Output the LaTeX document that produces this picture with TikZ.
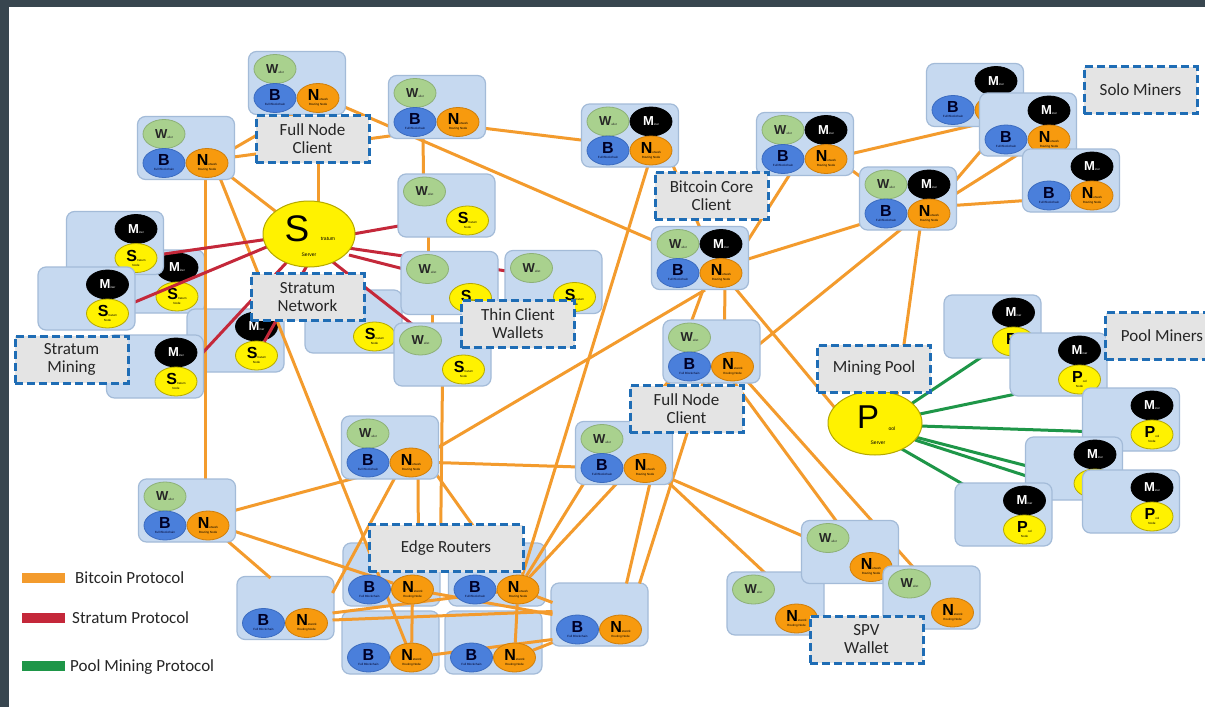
\documentclass[tikz,border=0pt]{standalone}
\usepackage{fontspec}
\setmainfont{Carlito}
\newfontfamily\arialf{Liberation Sans}
\usetikzlibrary{shapes.geometric,calc}
\pgfdeclarelayer{back}
\pgfdeclarelayer{lowest}
\pgfdeclarelayer{lines}
\pgfsetlayers{back,lowest,lines,main}

\definecolor{frame}{HTML}{38464F}
\definecolor{boxfill}{HTML}{C6D9F0}
\definecolor{boxline}{HTML}{A3BBD8}
\definecolor{wfill}{HTML}{A9D18E}
\definecolor{wline}{HTML}{8DB077}
\definecolor{bfill}{HTML}{4A7FDB}
\definecolor{bline}{HTML}{3B6BBF}
\definecolor{nfill}{HTML}{F79A0E}
\definecolor{nline}{HTML}{CF7E0A}
\definecolor{sfill}{HTML}{FFF200}
\definecolor{sline}{HTML}{B5A800}
\definecolor{btc}{HTML}{F39B2D}
\definecolor{strat}{HTML}{C4283A}
\definecolor{poolc}{HTML}{1E9648}
\definecolor{lblfill}{HTML}{E4E4E4}
\definecolor{lblline}{HTML}{1F6DB5}
\definecolor{txt}{HTML}{262626}

\tikzset{
 devbox/.style={draw=boxline, line width=1.2pt, fill=boxfill, rounded corners=8pt, minimum width=97pt, minimum height=63pt, inner sep=0pt},
 circbase/.style={ellipse, minimum width=42pt, minimum height=29pt, inner sep=0pt, line width=0.8pt, align=center, font=\arialf\fontsize{3}{4}\selectfont},
 circW/.style={circbase, fill=wfill, draw=wline, text=txt},
 circB/.style={circbase, fill=bfill, draw=bline, text=black!85!blue},
 circN/.style={circbase, fill=nfill, draw=nline, text=black},
 circM/.style={circbase, fill=black, draw=black, text=white},
 circS/.style={circbase, fill=sfill, draw=sline, text=black},
 lbl/.style={draw=lblline, fill=lblfill, dash pattern=on 8pt off 4pt, line width=3pt, minimum width=113pt, minimum height=47pt, align=center, font=\fontsize{17}{18}\selectfont, text=txt, inner sep=0pt},
 btcl/.style={draw=btc, line width=3pt},
 strl/.style={draw=strat, line width=3pt},
 pooll/.style={draw=poolc, line width=3pt},
 server/.style={ellipse, fill=sfill, draw=sline, line width=1pt, inner sep=0pt},
 legbar/.style={minimum width=43pt, minimum height=10pt, inner sep=0pt},
 legtxt/.style={font=\fontsize{17}{17}\selectfont, text=txt, anchor=base west, inner sep=0pt},
}

\newcommand\bigL[1]{{\fontsize{16}{16}\selectfont\bfseries #1}}
\newcommand\midL[1]{{\fontsize{13}{13}\selectfont\bfseries #1}}
\newcommand\cirW[2]{\node[circW] (#1) at (#2) {\midL{W}allet};}
\newcommand\cirB[2]{\node[circB] (#1) at (#2) {\bigL{B}\\[1pt] Full Blockchain};}
\newcommand\cirN[2]{\node[circN] (#1) at (#2) {\bigL{N}etwork\\[1pt] Routing Node};}
\newcommand\cirM[2]{\node[circM] (#1) at (#2) {\midL{M}iner};}
\newcommand\cirS[2]{\node[circS] (#1) at (#2) {\bigL{S}tratum\\[1pt] Node};}
\newcommand\cirP[2]{\node[circS] (#1) at (#2) {\bigL{P}ool\\[1pt] Node};}
\newcommand\cirX[2]{}
\newcommand\mkbox[3]{\node[devbox] (#1) at (#2,#3) {};}
\newcommand\mkcirc[7]{%
 \csname cir#4\endcsname{#1-ul}{#2-22,#3-14}%
 \csname cir#5\endcsname{#1-ur}{#2+21,#3-14}%
 \csname cir#6\endcsname{#1-ll}{#2-22,#3+15}%
 \csname cir#7\endcsname{#1-lr}{#2+21,#3+15}}
\newcommand\mkdev[7]{\mkbox{#1}{#2}{#3}\mkcirc{#1}{#2}{#3}{#4}{#5}{#6}{#7}}

\begin{document}
\begin{tikzpicture}[x=1pt,y=-1pt]
\useasboundingbox (0,0) rectangle (1205,707);
\begin{pgfonlayer}{back}
\fill[frame] (0,0) rectangle (1205,707);
\fill[white] (9,7) rectangle (1205,707);
\end{pgfonlayer}

% devices under the connectors
\begin{pgfonlayer}{lowest}
\mkdev{SM2}{156}{281.5}{X}{M}{X}{S}
\mkdev{SM5}{235.5}{340.5}{X}{M}{X}{S}
\mkdev{H}{353.5}{321.5}{X}{X}{X}{S}
\mkbox{R0}{285.5}{608}
\mkbox{R1}{391.5}{574.5}
\mkbox{R2}{497}{574.5}
\mkbox{R3}{390.5}{642.5}
\mkbox{R4}{493.5}{642.5}
\mkbox{R5}{599.5}{614.5}
\end{pgfonlayer}

% stratum miners
\mkdev{SM1}{115}{243}{X}{M}{X}{S}
\mkdev{SM3}{86.5}{298.5}{X}{M}{X}{S}
\mkdev{SM4}{155}{366.5}{X}{M}{X}{S}
% full nodes / thin clients
\mkdev{A}{297}{83}{W}{X}{B}{N}
\mkdev{Bx}{186}{148}{W}{X}{B}{N}
\mkdev{C}{437}{107}{W}{X}{B}{N}
\mkdev{D}{446.5}{205.5}{W}{X}{X}{S}
\mkdev{E}{449.5}{283}{W}{X}{X}{S}
\mkdev{F}{553.5}{282}{W}{X}{X}{S}
\mkdev{G}{442.5}{354.5}{W}{X}{X}{S}
\mkdev{I}{630}{135.5}{W}{M}{B}{N}
\mkdev{J}{700}{258}{W}{M}{B}{N}
\mkdev{K}{711.5}{351.5}{W}{X}{B}{N}
\mkdev{L}{624}{453}{W}{X}{B}{N}
\mkdev{MA}{805}{144}{W}{M}{B}{N}
\mkdev{MB}{908}{198.5}{W}{M}{B}{N}
% solo miners
\mkdev{SA}{975}{95}{X}{M}{B}{N}
\mkdev{SB}{1028}{124.5}{X}{M}{B}{N}
\mkdev{SC}{1071}{180.5}{X}{M}{B}{N}
% pool miners
\mkdev{P1}{992.5}{326.5}{X}{M}{X}{P}
\mkdev{P2}{1058.5}{364.5}{X}{M}{X}{P}
\mkdev{P3}{1131}{419.5}{X}{M}{X}{P}
\mkdev{P4}{1074}{468.5}{X}{M}{X}{P}
\mkdev{P5}{1131}{501.5}{X}{M}{X}{P}
\mkdev{P6}{1003.5}{514.5}{X}{M}{X}{P}
% lower nodes
\mkdev{Q}{187}{510.5}{W}{X}{B}{N}
\mkdev{T}{390}{447.5}{W}{X}{B}{N}
\mkcirc{R0}{285.5}{608}{X}{X}{B}{N}
\mkcirc{R1}{391.5}{574.5}{X}{X}{B}{N}
\mkcirc{R2}{497}{574.5}{X}{X}{B}{N}
\mkcirc{R3}{390.5}{642.5}{X}{X}{B}{N}
\mkcirc{R4}{493.5}{642.5}{X}{X}{B}{N}
\mkcirc{R5}{599.5}{614.5}{X}{X}{B}{N}
% SPV wallets
\mkdev{SPV1}{775.5}{603.5}{W}{X}{X}{N}
\mkdev{SPV2}{850}{552}{W}{X}{X}{N}
\mkdev{SPV3}{931.5}{597.5}{W}{X}{X}{N}

% servers
\node[server, minimum width=92pt, minimum height=66pt] (ss) at (309,234) {};
\node[font=\arialf\fontsize{37}{37}\selectfont, inner sep=0pt] (ss-l) at (297,229) {S};
\node[font=\arialf\fontsize{5}{5}\selectfont, inner sep=0pt] (ss-t) at (328,239) {tratum};
\node[font=\arialf\fontsize{5}{5}\selectfont, inner sep=0pt] (ss-b) at (309,255) {Server};
\node[server, minimum width=94pt, minimum height=64pt] (ps) at (875,423) {};
\node[font=\arialf\fontsize{33}{33}\selectfont, inner sep=0pt] (ps-l) at (868,417) {P};
\node[font=\arialf\fontsize{5}{5}\selectfont, inner sep=0pt] (ps-t) at (892,429) {ool};
\node[font=\arialf\fontsize{5}{5}\selectfont, inner sep=0pt] (ps-b) at (878,443) {Server};

% connectors
\begin{pgfonlayer}{lines}
\draw[btcl] ($(Bx)+(40,5)$) -- ($(A)+(3,27)$);
\draw[btcl] ($(Bx)+(40,10)$) -- ($(C)+(-40,28)$);
\draw[btcl] ($(A)+(43,22)$) -- ($(J)+(-48,-18)$);
\draw[btcl] ($(A)+(21,25)$) -- ($(ss)+(9,-20)$);
\draw[btcl] ($(Bx)+(40,25)$) -- ($(ss)+(-30,-20)$);
\draw[btcl] ($(Bx)+(19,25)$) -- ($(Q)+(18,-10)$);
\draw[btcl] ($(Bx)+(32,25)$) -- (R3-lr);
\draw[btcl] ($(C)+(-14,20)$) -- ($(D)+(-23,-20)$);
\draw[btcl] ($(D)+(-18,20)$) -- ($(E)+(-21,-20)$);
\draw[btcl] ($(E)+(-17,20)$) -- ($(G)+(-10,-20)$);
\draw[btcl] ($(G)+(0,25)$) -- ($(R1)+(49,-25)$);
\draw[btcl] ($(T)+(28,25)$) -- ($(R1)+(27,-20)$);
\draw[btcl] ($(T)+(45,25)$) -- ($(R2)+(0,-15)$);
\draw[btcl] ($(Q)+(40,2)$) -- ($(T)+(-33,30)$);
\draw[btcl] ($(Q)+(45,20)$) -- (R1-lr);
\draw[btcl] ($(Q)+(40,30)$) -- ($(R0)+(-15,-30)$);
\draw[btcl] ($(T)+(5,30)$) -- ($(R0)+(47,-15)$);
\draw[btcl] ($(T)+(45,15)$) -- ($(L)+(-45,14)$);
\draw[btcl] ($(T)+(48,0)$) -- ($(J)+(5,32)$);
\draw[btcl] ($(C)+(45,21)$) -- ($(I)+(-45,5)$);
\draw[btcl] ($(I)+(18,30)$) -- (R2-lr);
\draw[btcl] ($(I)+(43,30)$) -- ($(J)+(0,-30)$);
\draw[btcl] ($(J)+(45,-13)$) -- ($(MA)+(-15,30)$);
\draw[btcl] ($(J)+(45,2)$) -- ($(MB)+(-45,25)$);
\draw[btcl] ($(MA)+(45,25)$) -- ($(MB)+(-45,-20)$);
\draw[btcl] ($(MA)+(45,10)$) -- ($(SA)+(0,30)$);
\draw[btcl] ($(MB)+(45,-15)$) -- ($(SA)+(28,30)$);
\draw[btcl] ($(MB)+(45,-3)$) -- ($(SB)+(-10,30)$);
\draw[btcl] ($(MB)+(45,7)$) -- ($(SC)+(-45,20)$);
\draw[btcl] ($(MB)+(-6,30)$) -- ($(K)+(45,-5)$);
\draw[btcl] ($(MB)+(12,30)$) -- ($(ps)+(22,-28)$);
\draw[btcl] ($(J)+(35,30)$) -- ($(ps)+(-40,-15)$);
\draw[btcl] ($(J)+(3,32)$) -- ($(L)+(30,-30)$);
\draw[btcl] ($(J)+(25,30)$) -- ($(K)+(13,-28)$);
\draw[btcl] ($(K)+(0,30)$) -- (R2-lr);
\draw[btcl] ($(K)+(-8,30)$) -- ($(R5)+(40,-31)$);
\draw[btcl] ($(L)+(26,30)$) -- ($(R5)+(27,-31)$);
\draw[btcl] ($(L)+(-40,30)$) -- (R2-lr);
\draw[btcl] ($(L)+(8,-30)$) -- ($(K)+(-43,30)$);
\draw[btcl] ($(L)+(45,30)$) -- ($(SPV1)+(-10,-30)$);
\draw[btcl] ($(L)+(45,25)$) -- ($(SPV2)+(-45,-15)$);
\draw[btcl] ($(K)+(22,30)$) -- ($(SPV2)+(-13,-30)$);
\draw[btcl] ($(K)+(36,30)$) -- ($(SPV3)+(-18,-30)$);
\draw[btcl] (R1-lr) -- (R3-lr);
\draw[btcl] (R2-lr) -- (R4-lr);
\draw[btcl] (R3-lr) -- ($(R5)+(-47,25)$);
\draw[btcl] (R4-lr) -- ($(R5)+(-47,28)$);
\draw[btcl] (R1-lr) -- ($(R5)+(-47,0)$);
\draw[btcl] (R2-lr) -- ($(R5)+(-47,-12)$);
\draw[btcl] ($(R0)+(47,5)$) -- (R2-lr);
\draw[btcl] ($(R0)+(47,12)$) -- ($(R5)+(-47,-3)$);
% stratum
\draw[strl] ($(ss)+(-40,5)$) -- (SM1-lr);
\draw[strl] ($(ss)+(-40,12)$) -- (SM3-lr);
\draw[strl] ($(ss)+(-22,28)$) -- (SM4-lr);
\draw[strl] ($(ss)+(0,28)$) -- (SM5-lr);
\draw[strl] ($(ss)+(44,0)$) -- ($(D)+(-45,20)$);
\draw[strl] ($(ss)+(39,14)$) -- ($(F)+(-40,-10)$);
\draw[strl] ($(ss)+(40,21)$) -- ($(E)+(-30,-10)$);
\draw[strl] ($(ss)+(20,25)$) -- ($(G)+(-30,-30)$);
% pool
\draw[pooll] ($(ps)+(30,-15)$) -- ($(P1)+(-10,30)$);
\draw[pooll] ($(ps)+(40,-8)$) -- ($(P2)+(-45,30)$);
\draw[pooll] ($(ps)+(45,3)$) -- ($(P3)+(-45,12)$);
\draw[pooll] ($(ps)+(40,14)$) -- (P4-lr);
\draw[pooll] ($(ps)+(40,17)$) -- (P5-lr);
\draw[pooll] ($(ps)+(25,25)$) -- ($(P6)+(-40,-30)$);
\end{pgfonlayer}

% labels
\node[lbl] (lfn1) at (312.5,139) {Full Node\\Client};
\node[lbl] (lbcc) at (711.5,195.5) {Bitcoin Core\\Client};
\node[lbl] (lsolo) at (1140.5,90) {Solo Miners};
\node[lbl] (lthin) at (518,324) {Thin Client\\Wallets};
\node[lbl] (lsn) at (307.5,297) {Stratum\\Network};
\node[lbl] (lsm) at (71.5,359.5) {Stratum\\Mining};
\node[lbl] (lmp) at (874,368.5) {Mining Pool};
\node[lbl] (lpm) at (1162,336) {Pool Miners};
\node[lbl] (lfn2) at (686.5,409) {Full Node\\Client};
\node[lbl, minimum width=154pt] (ler) at (446,548) {Edge Routers};
\node[lbl] (lspv) at (866.5,639.5) {SPV\\Wallet};

% legend
\node[legbar, fill=btc] (lgb) at (43.5,578) {};
\node[legtxt] (lgbt) at (75,583) {Bitcoin Protocol};
\node[legbar, fill=strat] (lgs) at (43.5,618) {};
\node[legtxt] (lgst) at (72,623) {Stratum Protocol};
\node[legbar, fill=poolc] (lgp) at (43.5,665.5) {};
\node[legtxt] (lgpt) at (70,671) {Pool Mining Protocol};
\end{tikzpicture}
\end{document}
